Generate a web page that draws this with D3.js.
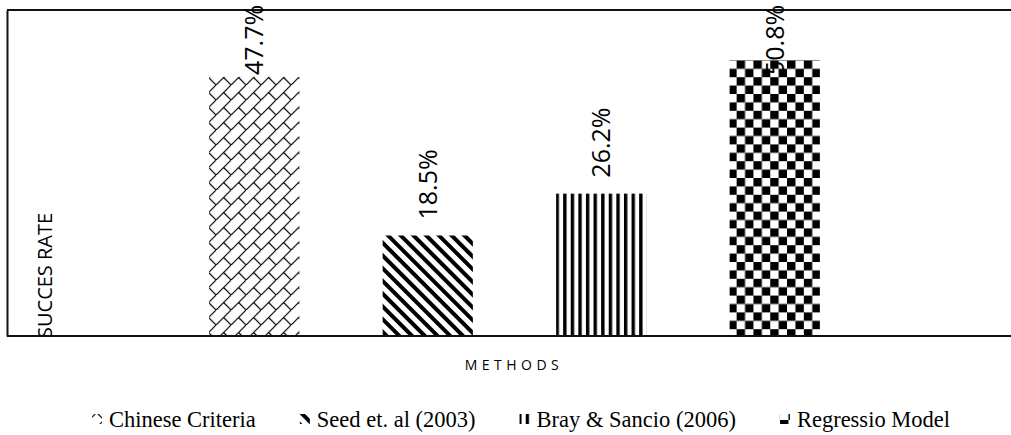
<!DOCTYPE html>
<html>
<head>
<meta charset="utf-8">
<script src="https://cdnjs.cloudflare.com/ajax/libs/d3/7.8.5/d3.min.js"></script>
<style>
	body { margin: 0; background: #fff; }
	.lbl { font-family: 'Open Sans', sans-serif; fill: #000; }
	.leg { font-family: 'Liberation Serif', 'Times New Roman', serif; fill: #000; }
</style>
</head>
<body>
<div id="chart"></div>
<script>
'use strict';

// values
const methods = ['Chinese Criteria', 'Seed et. al (2003)', 'Bray & Sancio (2006)', 'Regressio Model'];
const successRate = [47.7, 18.5, 26.2, 50.8];
const rateLabels = ['47.7%', '18.5%', '26.2%', '50.8%'];
const fillPatterns = ['brick', 'wideDown', 'darkVert', 'checker'];
const yDomain = [0, 60];
const xTitle = 'METHODS';
const yTitle = 'SUCCES RATE';

class patternBars {

	constructor(elementId, options) {
		this.options = {
			'width': options.width,
			'height': options.height,
			'margin': options.margin
		};
		this.options.plotW = this.options.width - this.options.margin.left - this.options.margin.right;
		this.options.plotH = this.options.height - this.options.margin.top - this.options.margin.bottom;

		this.rows = methods.map((m, i) => ({ name: m, val: successRate[i], label: rateLabels[i], pat: fillPatterns[i] }));

		this.svgElem = d3.select('#' + elementId).append('svg')
			.attr('width', this.options.width)
			.attr('height', this.options.height);

		this.container = this.svgElem.append('g')
			.attr('transform', 'translate(' + this.options.margin.left + ',' + this.options.margin.top + ')');

		this.x = d3.scaleBand()
			.domain(methods)
			.range([160.5, 854.5])
			.paddingInner(0.48)
			.paddingOuter(0.24);

		this.y = d3.scaleLinear()
			.domain(yDomain)
			.range([this.options.plotH, 0]);

		this.drawPatterns();
		this.drawBars();
		this.drawFrame();
		this.drawLabels();
		this.drawLegend();
	}

	drawPatterns() {
		let defs = this.svgElem.append('defs');
		let ml = this.options.margin.left, mt = this.options.margin.top;

		// diagonal brick
		let p = defs.append('pattern').attr('id', 'brick')
			.attr('patternUnits', 'userSpaceOnUse')
			.attr('width', 15).attr('height', 15)
			.attr('x', ml + this.x(methods[0]));
		p.append('path')
			.attr('d', 'M0,15 L15,0 M7.5,7.5 L15,15')
			.attr('stroke', '#000')
			.attr('stroke-width', 1.2)
			.attr('fill', 'none');

		// wide downward diagonal
		p = defs.append('pattern').attr('id', 'wideDown')
			.attr('patternUnits', 'userSpaceOnUse')
			.attr('width', 9).attr('height', 9)
			.attr('patternTransform', 'rotate(-45)');
		p.append('rect').attr('width', 4).attr('height', 9).attr('fill', '#000');

		// dark vertical
		p = defs.append('pattern').attr('id', 'darkVert')
			.attr('patternUnits', 'userSpaceOnUse')
			.attr('width', 7.6).attr('height', 10)
			.attr('x', ml + this.x(methods[2]));
		p.append('rect').attr('width', 3.4).attr('height', 10).attr('fill', '#000');

		// large checker board
		p = defs.append('pattern').attr('id', 'checker')
			.attr('patternUnits', 'userSpaceOnUse')
			.attr('width', 16.8).attr('height', 16.8)
			.attr('x', ml + this.x(methods[3]))
			.attr('y', mt + this.options.plotH);
		p.append('rect').attr('width', 8.4).attr('height', 8.4).attr('fill', '#000');
		p.append('rect').attr('x', 8.4).attr('y', 8.4).attr('width', 8.4).attr('height', 8.4).attr('fill', '#000');
	}

	drawBars() {
		this.container.selectAll('rect.bar')
			.data(this.rows)
			.enter()
			.append('rect')
			.attr('class', 'bar')
			.attr('x', d => this.x(d.name))
			.attr('y', d => this.y(d.val))
			.attr('width', this.x.bandwidth())
			.attr('height', d => this.y(0) - this.y(d.val))
			.attr('fill', d => 'url(#' + d.pat + ')');
	}

	drawFrame() {
		let stroke = '#111';

		this.container.append('g')
			.attr('class', 'y axis')
			.call(d3.axisLeft(this.y).tickValues([]).tickSizeOuter(0))
			.select('.domain')
			.attr('stroke', stroke)
			.attr('stroke-width', 2);

		this.container.append('line')
			.attr('x1', 0).attr('x2', this.options.plotW)
			.attr('y1', this.y(yDomain[1])).attr('y2', this.y(yDomain[1]))
			.attr('stroke', stroke)
			.attr('stroke-width', 2);

		this.container.append('text')
			.attr('class', 'lbl')
			.attr('transform', 'translate(38,' + (this.y(0) + 2) + ') rotate(-90)')
			.attr('dy', '0.35em')
			.style('font-size', '20px')
			.text(yTitle);

		this.container.append('line')
			.attr('x1', 0).attr('x2', this.options.plotW)
			.attr('y1', this.y(0)).attr('y2', this.y(0))
			.attr('stroke', stroke)
			.attr('stroke-width', 2);

		this.container.append('text')
			.attr('class', 'lbl')
			.attr('x', this.options.plotW / 2 + 5)
			.attr('y', this.y(0) + 34)
			.attr('text-anchor', 'middle')
			.style('font-size', '14px')
			.style('letter-spacing', '4.5px')
			.text(xTitle);
	}

	drawLabels() {
		this.container.selectAll('text.val')
			.data(this.rows)
			.enter()
			.append('text')
			.attr('class', 'lbl val')
			.attr('transform', d => {
				let bx = this.x(d.name) + this.x.bandwidth() / 2;
				let by = Math.max(this.y(d.val) - 16, 65);
				return 'translate(' + bx + ',' + by + ') rotate(-90)';
			})
			.attr('dy', '0.35em')
			.style('font-size', '25px')
			.text(d => d.label);
	}

	drawLegend() {
		let leg = this.svgElem.append('g').attr('class', 'legend');
		let xPos = 92, base = 427;

		this.rows.forEach(d => {
			leg.append('rect')
				.attr('x', xPos)
				.attr('y', base - 13)
				.attr('width', 10)
				.attr('height', 10)
				.attr('fill', 'url(#' + d.pat + ')');

			let t = leg.append('text')
				.attr('class', 'leg')
				.attr('x', xPos + 17)
				.attr('y', base)
				.style('font-size', '22.5px')
				.text(d.name);

			xPos += 17 + t.node().getComputedTextLength() + 44;
		});
	}
}

new patternBars('chart', {
	width: 1011,
	height: 435,
	margin: { top: 10, right: 0, bottom: 99, left: 7 }
});
</script>
</body>
</html>
